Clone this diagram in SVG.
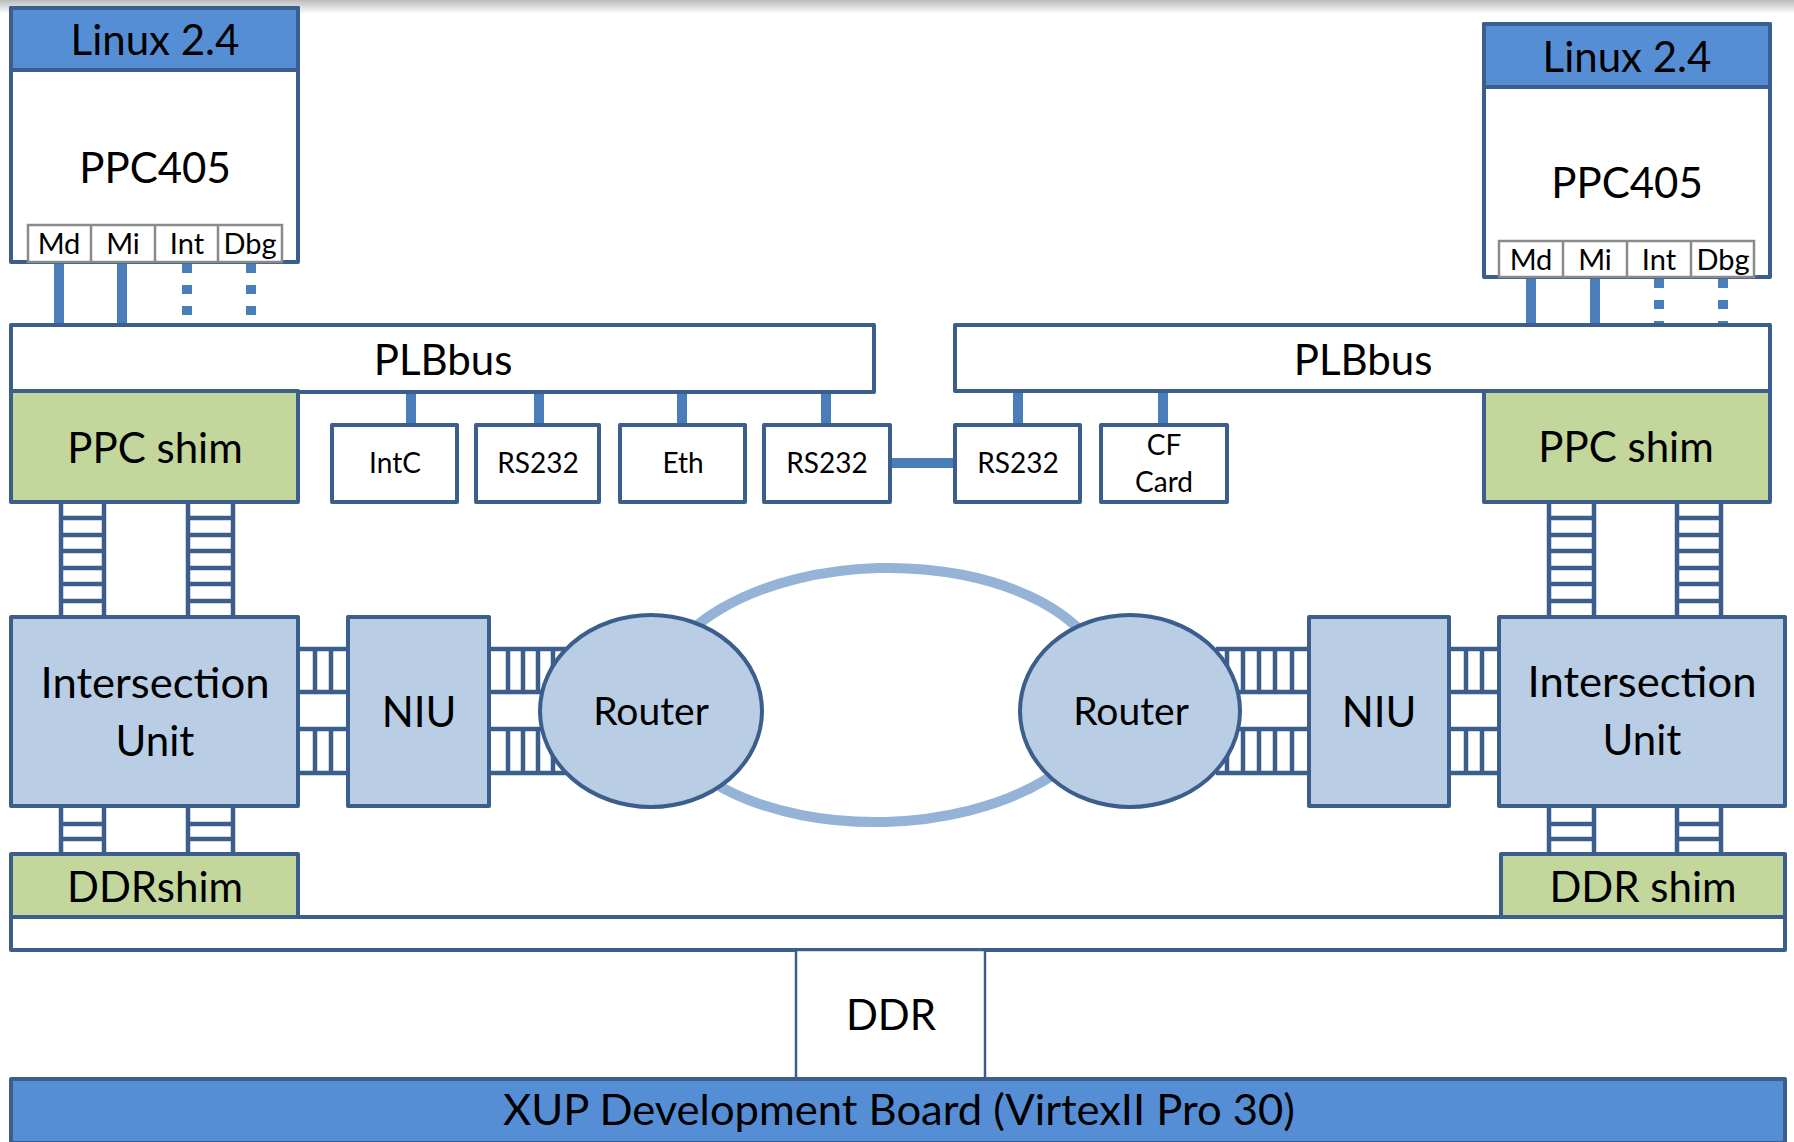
<svg xmlns="http://www.w3.org/2000/svg" width="1794" height="1142" viewBox="0 0 1794 1142">
<defs>
<linearGradient id="topShade" x1="0" y1="0" x2="0" y2="1">
<stop offset="0" stop-color="#bcbcbc"/>
<stop offset="1" stop-color="#ffffff"/>
</linearGradient>
<style>
.bd{stroke:#3B5E8C;stroke-width:4;stroke-linejoin:round}
.hdr{fill:#558ED5}
.wht{fill:#ffffff}
.lb{fill:#B9CDE5}
.gr{fill:#C3D69B}
.port{fill:#ffffff;stroke:#8A8A8A;stroke-width:2.5}
.lad{stroke:#3B5E8C;stroke-width:4.5;fill:none}
.con{stroke:#4A7EBB;stroke-width:10;fill:none}
.dot{stroke:#4A7EBB;stroke-width:10;fill:none;stroke-dasharray:9 12}
.ring{stroke:#95B3D7;stroke-width:10;fill:none}
text{font-family:Lato,"Liberation Sans",sans-serif;fill:#000000;text-anchor:middle}
.big{font-size:42px}
.rt{font-size:39px}
.sm{font-size:28px}
.pt{font-size:29px}
</style>
</defs>
<rect x="0" y="0" width="1794" height="1142" fill="#ffffff"/>
<rect x="0" y="0" width="1794" height="14" fill="url(#topShade)"/>

<g id="connectors">
<ellipse class="ring" cx="882" cy="695" rx="226" ry="127" transform="rotate(-1.5 882 695)"/>
<!-- CPU to PLB -->
<line class="con" x1="59" y1="262" x2="59" y2="326"/>
<line class="con" x1="122" y1="262" x2="122" y2="326"/>
<line class="dot" x1="187" y1="264" x2="187" y2="325"/>
<line class="dot" x1="251" y1="264" x2="251" y2="325"/>
<line class="con" x1="1531" y1="277" x2="1531" y2="326"/>
<line class="con" x1="1595" y1="277" x2="1595" y2="326"/>
<line class="dot" x1="1659" y1="279" x2="1659" y2="325"/>
<line class="dot" x1="1723" y1="279" x2="1723" y2="325"/>
<!-- PLB to peripherals -->
<line class="con" x1="411" y1="391" x2="411" y2="425"/>
<line class="con" x1="539" y1="391" x2="539" y2="425"/>
<line class="con" x1="682" y1="391" x2="682" y2="425"/>
<line class="con" x1="826" y1="391" x2="826" y2="425"/>
<line class="con" x1="1018" y1="391" x2="1018" y2="425"/>
<line class="con" x1="1163" y1="391" x2="1163" y2="425"/>
<line class="con" x1="890" y1="463" x2="955" y2="463"/>
<!-- vertical ladders PPC shim to IU -->
<path class="lad" d="M61 502V617M104 502V617M61 518H104M61 535H104M61 551H104M61 568H104M61 584H104M61 601H104"/>
<path class="lad" d="M188 502V617M233 502V617M188 518H233M188 535H233M188 551H233M188 568H233M188 584H233M188 601H233"/>
<path class="lad" d="M1549 502V617M1594 502V617M1549 518H1594M1549 535H1594M1549 551H1594M1549 568H1594M1549 584H1594M1549 601H1594"/>
<path class="lad" d="M1677 502V617M1721 502V617M1677 518H1721M1677 535H1721M1677 551H1721M1677 568H1721M1677 584H1721M1677 601H1721"/>
<!-- vertical ladders IU to DDR shim -->
<path class="lad" d="M61 806V854M104 806V854M61 824H104M61 839H104"/>
<path class="lad" d="M188 806V854M233 806V854M188 824H233M188 839H233"/>
<path class="lad" d="M1549 806V854M1594 806V854M1549 824H1594M1549 839H1594"/>
<path class="lad" d="M1677 806V854M1721 806V854M1677 824H1721M1677 839H1721"/>
<!-- horizontal ladders -->
<path class="lad" d="M298 649H348M298 692H348M315 649V692M331 649V692M298 729H348M298 773H348M315 729V773M331 729V773"/>
<path class="lad" d="M489 649H566M489 692H566M508 649V692M523 649V692M538 649V692M553 649V692M489 729H566M489 773H566M508 729V773M523 729V773M538 729V773M553 729V773"/>
<path class="lad" d="M1216 649H1309M1216 692H1309M1227 649V692M1243 649V692M1259 649V692M1275 649V692M1292 649V692M1216 729H1309M1216 773H1309M1227 729V773M1243 729V773M1259 729V773M1275 729V773M1292 729V773"/>
<path class="lad" d="M1449 649H1499M1449 692H1499M1466 649V692M1482 649V692M1449 729H1499M1449 773H1499M1466 729V773M1482 729V773"/>
</g>

<g id="cpu-left">
<rect class="bd wht" x="11" y="8" width="287" height="254"/>
<rect class="bd hdr" x="11" y="8" width="287" height="62"/>
<text class="big" x="155" y="55">Linux 2.4</text>
<text class="big" x="155" y="183">PPC405</text>
<rect class="port" x="28" y="225" width="254" height="37"/>
<path stroke="#8A8A8A" stroke-width="2.5" d="M91 225V262M155 225V262M218 225V262"/>
<text class="pt" x="59" y="254">Md</text>
<text class="pt" x="123" y="254">Mi</text>
<text class="pt" x="187" y="254">Int</text>
<text class="pt" x="250" y="254">Dbg</text>
</g>

<g id="cpu-right">
<rect class="bd wht" x="1484" y="24" width="286" height="253"/>
<rect class="bd hdr" x="1484" y="24" width="286" height="63"/>
<text class="big" x="1627" y="72">Linux 2.4</text>
<text class="big" x="1627" y="198">PPC405</text>
<rect class="port" x="1499" y="241" width="255" height="36"/>
<path stroke="#8A8A8A" stroke-width="2.5" d="M1563 241V277M1627 241V277M1691 241V277"/>
<text class="pt" x="1531" y="270">Md</text>
<text class="pt" x="1595" y="270">Mi</text>
<text class="pt" x="1659" y="270">Int</text>
<text class="pt" x="1723" y="270">Dbg</text>
</g>

<g id="plb-left">
<rect class="bd wht" x="11" y="325" width="863" height="67"/>
<text class="big" x="443" y="375">PLBbus</text>
</g>
<g id="plb-right">
<rect class="bd wht" x="955" y="325" width="815" height="66"/>
<text class="big" x="1363" y="375">PLBbus</text>
</g>

<g id="ppcshim-left">
<rect class="bd gr" x="11" y="391" width="287" height="111"/>
<text class="big" x="155" y="463">PPC shim</text>
</g>
<g id="ppcshim-right">
<rect class="bd gr" x="1484" y="391" width="286" height="111"/>
<text class="big" x="1626" y="462">PPC shim</text>
</g>

<g id="intc"><rect class="bd wht" x="332" y="425" width="125" height="77"/><text class="sm" x="395" y="473">IntC</text></g>
<g id="rs232-a"><rect class="bd wht" x="476" y="425" width="123" height="77"/><text class="sm" x="538" y="473">RS232</text></g>
<g id="eth"><rect class="bd wht" x="620" y="425" width="125" height="77"/><text class="sm" x="683" y="473">Eth</text></g>
<g id="rs232-b"><rect class="bd wht" x="764" y="425" width="126" height="77"/><text class="sm" x="827" y="473">RS232</text></g>
<g id="rs232-c"><rect class="bd wht" x="955" y="425" width="125" height="77"/><text class="sm" x="1018" y="473">RS232</text></g>
<g id="cfcard"><rect class="bd wht" x="1101" y="425" width="126" height="77"/><text class="sm" x="1164" y="455">CF</text><text class="sm" x="1164" y="492">Card</text></g>

<g id="iu-left">
<rect class="bd lb" x="11" y="617" width="287" height="189"/>
<text class="big" x="155" y="698" textLength="229" lengthAdjust="spacingAndGlyphs">Intersection</text>
<text class="big" x="155" y="756">Unit</text>
</g>
<g id="niu-left">
<rect class="bd lb" x="348" y="617" width="141" height="189"/>
<text class="big" x="419" y="727">NIU</text>
</g>
<g id="router-left">
<ellipse class="bd lb" cx="651" cy="711" rx="111" ry="96"/>
<text class="rt" x="651" y="725">Router</text>
</g>
<g id="router-right">
<ellipse class="bd lb" cx="1130" cy="711" rx="110" ry="96"/>
<text class="rt" x="1131" y="725">Router</text>
</g>
<g id="niu-right">
<rect class="bd lb" x="1309" y="617" width="140" height="189"/>
<text class="big" x="1379" y="727">NIU</text>
</g>
<g id="iu-right">
<rect class="bd lb" x="1499" y="617" width="286" height="189"/>
<text class="big" x="1642" y="697" textLength="229" lengthAdjust="spacingAndGlyphs">Intersection</text>
<text class="big" x="1642" y="755">Unit</text>
</g>

<g id="ddrshim-left">
<rect class="bd gr" x="11" y="854" width="287" height="63"/>
<text class="big" x="155" y="902">DDRshim</text>
</g>
<g id="ddrshim-right">
<rect class="bd gr" x="1501" y="854" width="284" height="63"/>
<text class="big" x="1643" y="902">DDR shim</text>
</g>
<g id="ddr-bus">
<rect class="bd wht" x="11" y="917" width="1774" height="33"/>
</g>
<g id="ddr">
<rect class="wht" x="796" y="950" width="189" height="129" stroke="#3B5E8C" stroke-width="2.5"/>
<text class="big" x="891" y="1030">DDR</text>
</g>
<g id="xup-board">
<rect class="bd hdr" x="11" y="1079" width="1774" height="64"/>
<text class="big" x="899" y="1125" textLength="792" lengthAdjust="spacingAndGlyphs">XUP Development Board (VirtexII Pro 30)</text>
</g>
</svg>
